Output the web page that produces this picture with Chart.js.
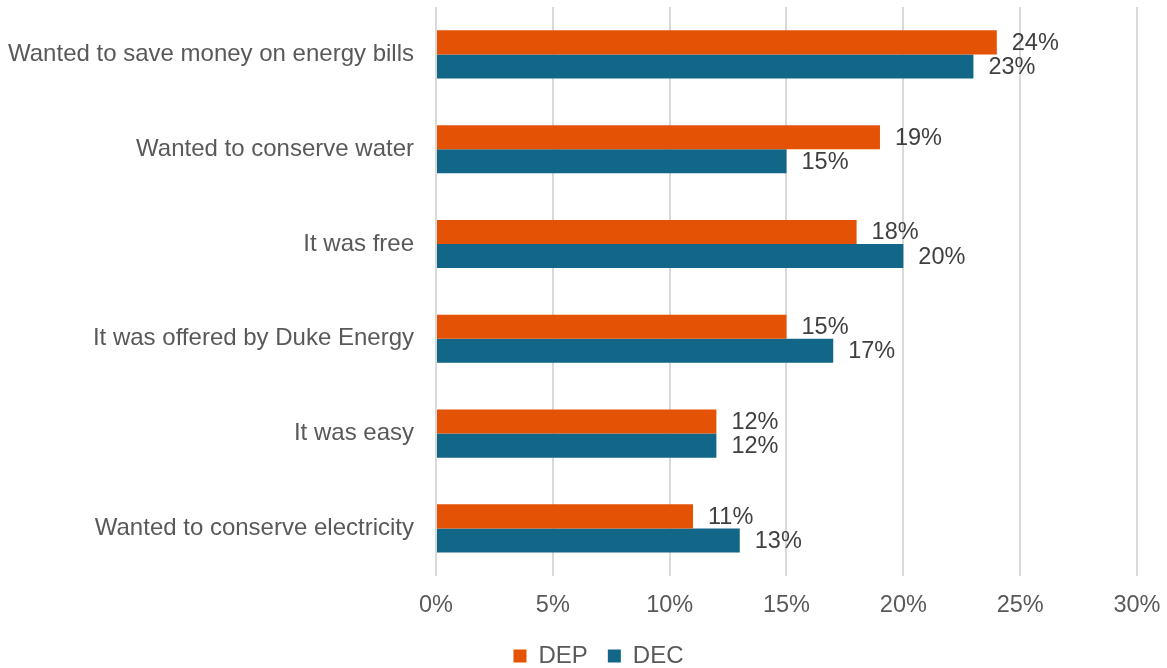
<!DOCTYPE html>
<html>
<head>
<meta charset="utf-8">
<script src="https://cdn.jsdelivr.net/npm/chart.js@4"></script>
<style>
  html, body { margin: 0; padding: 0; background: #fff; }
  #wrap { width: 1167px; height: 668px; }
</style>
</head>
<body>
<div id="wrap"><canvas id="reasonChart"></canvas></div>
<script>
// reasons for participating
const categories = [
    'Wanted to save money on energy bills',
    'Wanted to conserve water',
    'It was free',
    'It was offered by Duke Energy',
    'It was easy',
    'Wanted to conserve electricity'
];
const depValues = [24, 19, 18, 15, 12, 11];
const decValues = [23, 15, 20, 17, 12, 13];
const xTicks = [0, 5, 10, 15, 20, 25, 30];

const textColor = '#595959';
const valueColor = '#404040';
const fontFamily = '"Liberation Sans", Arial, sans-serif';

// draw the % labels at the end of each bar
const barLabels = {
    id: 'barLabels',
    afterDatasetsDraw(chart) {
        const ctx = chart.ctx;
        ctx.save();
        ctx.font = '23.5px ' + fontFamily;
        ctx.fillStyle = valueColor;
        ctx.textAlign = 'left';
        ctx.textBaseline = 'middle';
        chart.data.datasets.forEach((ds, i) => {
            chart.getDatasetMeta(i).data.forEach((bar, j) => {
                ctx.fillText(ds.data[j] + '%', bar.x + 15, bar.y + 1);
            });
        });
        ctx.restore();
    }
};

// nudge the legend a bit right, like the original
const legendShift = {
    id: 'legendShift',
    afterLayout(chart) {
        chart.legend.left += 33;
        chart.legend.right += 33;
    }
};

const ctxR = document.getElementById('reasonChart');
const reasonChart = new Chart(ctxR, {
    type: 'bar',
    data: {
        labels: categories,
        datasets: [{
            label: 'DEP',
            data: depValues,
            backgroundColor: '#E35205',
            borderWidth: 0,
            categoryPercentage: 0.507,
            barPercentage: 1.0
        },
        {
            label: 'DEC',
            data: decValues,
            backgroundColor: '#126688',
            borderWidth: 0,
            categoryPercentage: 0.507,
            barPercentage: 1.0
        }]
    },
    options: {
        indexAxis: 'y',
        responsive: true,
        maintainAspectRatio: false,
        animation: false,
        layout: {
            padding: { top: 7, right: 30, left: -6, bottom: -10 }
        },
        scales: {
            x: {
                min: 0,
                max: 30,
                afterBuildTicks(axis) {
                    axis.ticks = xTicks.map(v => ({ value: v }));
                },
                afterFit(axis) {
                    axis.height -= 12;
                    axis.paddingLeft = 0;
                    axis.paddingRight = 0;
                },
                grid: { color: '#D9D9D9', lineWidth: 2, drawTicks: false },
                border: { display: false },
                ticks: {
                    color: textColor,
                    font: { size: 23.5, family: fontFamily },
                    padding: 16,
                    callback: v => v + '%'
                }
            },
            y: {
                afterFit(axis) {
                    axis.paddingTop = 0;
                    axis.paddingBottom = 0;
                },
                grid: { display: false },
                border: { display: false },
                ticks: {
                    color: textColor,
                    font: { size: 24, family: fontFamily },
                    padding: 14
                }
            }
        },
        plugins: {
            legend: {
                display: true,
                position: 'bottom',
                labels: {
                    color: textColor,
                    font: { size: 24, family: fontFamily },
                    boxWidth: 13,
                    boxHeight: 13,
                    padding: 20
                }
            },
            tooltip: { enabled: false }
        }
    },
    plugins: [barLabels, legendShift]
});
</script>
</body>
</html>
